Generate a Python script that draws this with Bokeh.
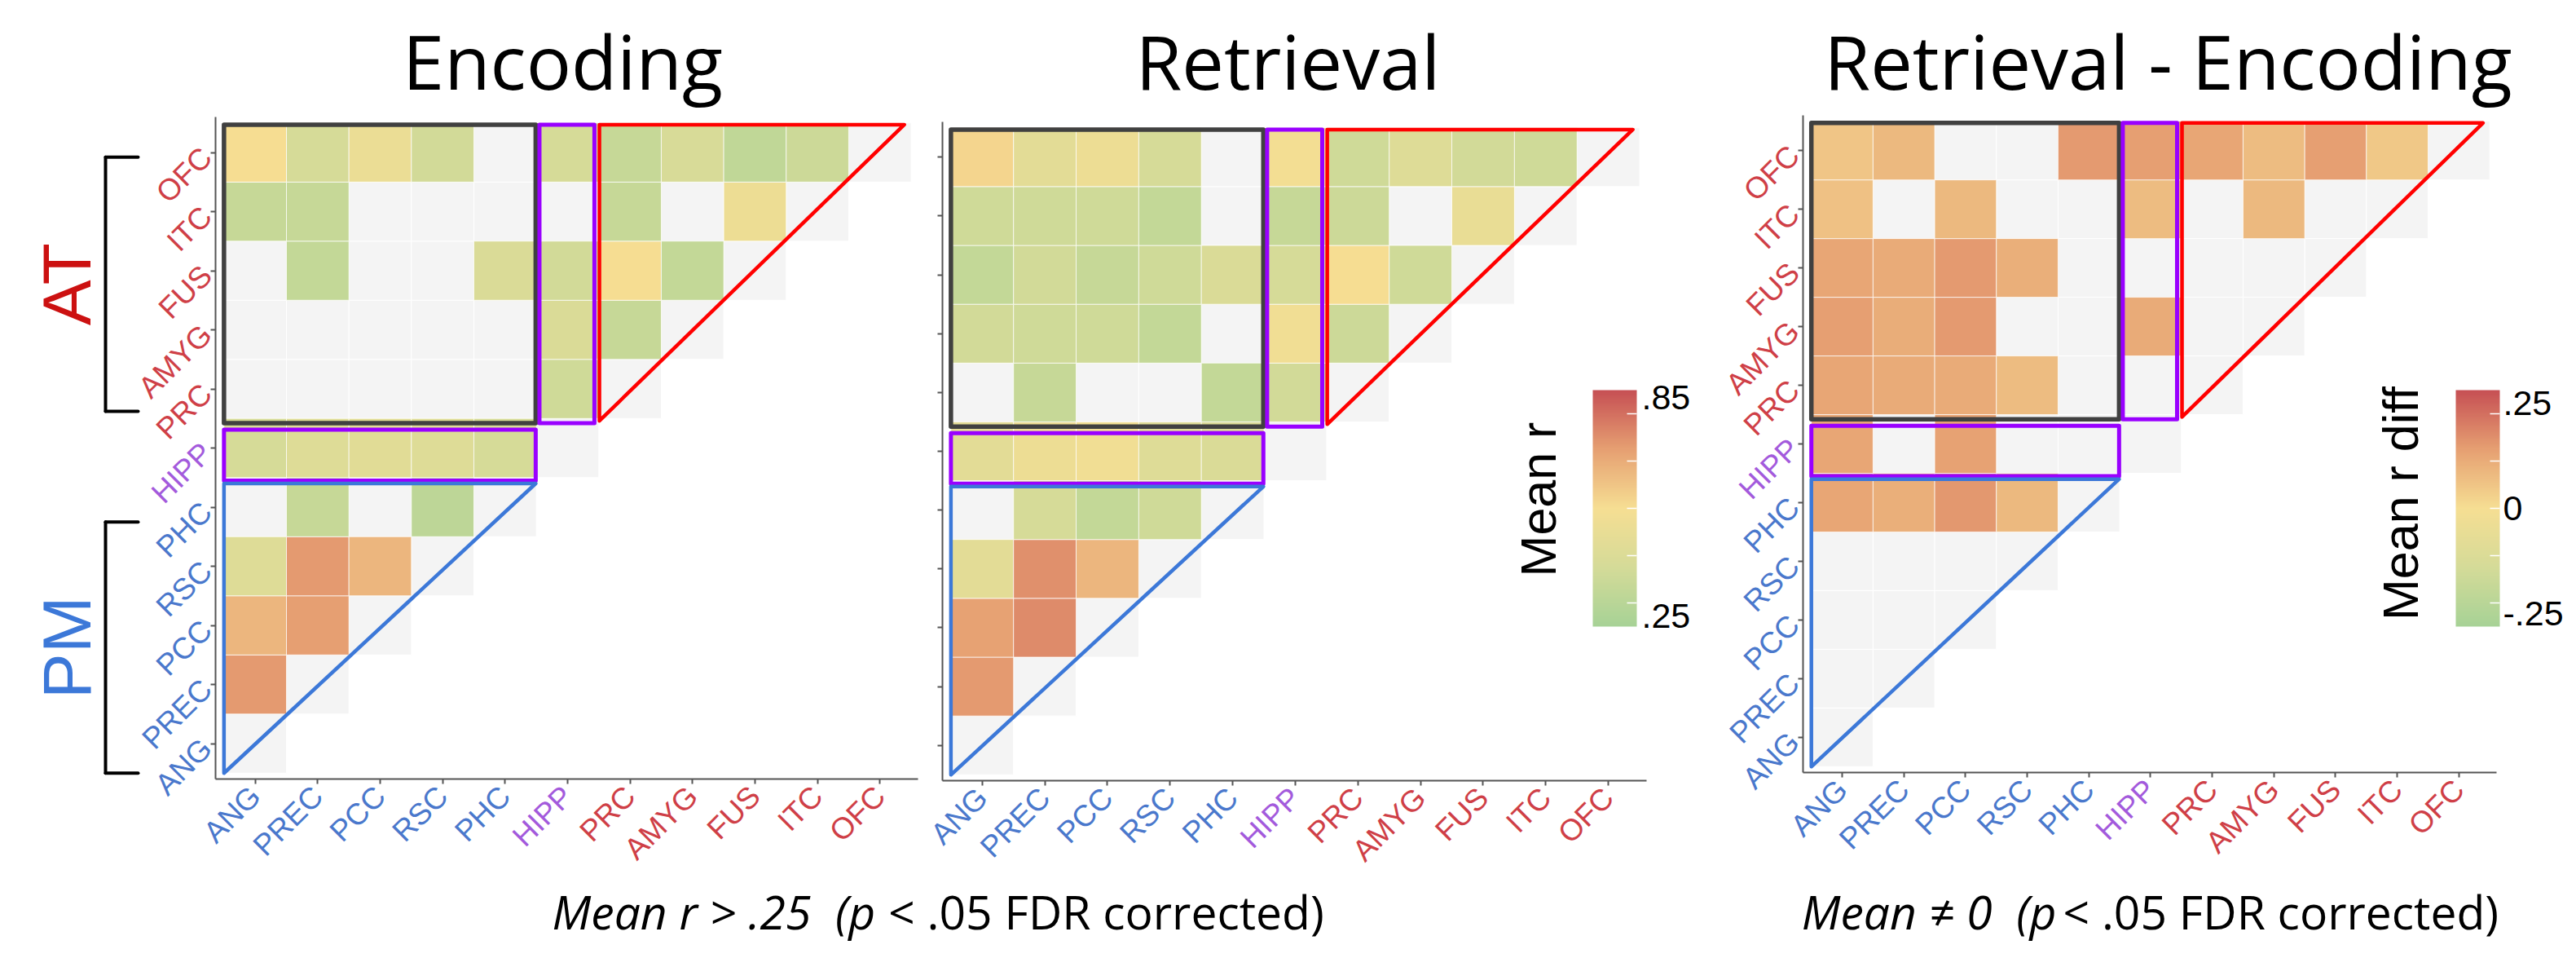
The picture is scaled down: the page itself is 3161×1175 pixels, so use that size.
import math
import numpy as np
from bokeh.plotting import figure
from bokeh.models import (ColumnDataSource, Label, Arrow, ColorBar, LinearAxis,
                          LinearColorMapper, FixedTicker, Range1d, CustomJSTickFormatter)
from bokeh.layouts import row
from bokeh.transform import transform
from bokeh.embed import file_html
from bokeh.resources import INLINE

# ---------------- data ----------------
regions = ["ANG", "PREC", "PCC", "RSC", "PHC", "HIPP", "PRC", "AMYG", "FUS", "ITC", "OFC"]
region_group = ["PM", "PM", "PM", "PM", "PM", "HIPP", "AT", "AT", "AT", "AT", "AT"]

# each row lists values for columns ANG.. (up to, not incl., the diagonal); None = not significant
encoding_r = {
    "OFC":  [0.55, 0.39, 0.49, 0.37, None, 0.39, 0.33, 0.40, 0.31, 0.35],
    "ITC":  [0.33, 0.33, None, None, None, None, 0.33, None, 0.50],
    "FUS":  [None, 0.32, None, None, 0.41, 0.37, 0.55, 0.32],
    "AMYG": [None, None, None, None, None, 0.41, 0.33],
    "PRC":  [None, None, None, None, None, 0.36],
    "HIPP": [0.39, 0.43, 0.44, 0.43, 0.39],
    "PHC":  [None, 0.33, None, 0.30],
    "RSC":  [0.43, 0.72, 0.65],
    "PCC":  [0.65, 0.71],
    "PREC": [0.72],
    "ANG":  [],
}
retrieval_r = {
    "OFC":  [0.57, 0.45, 0.50, 0.39, None, 0.53, 0.36, 0.43, 0.37, 0.36],
    "ITC":  [0.36, 0.36, 0.36, 0.32, None, 0.33, 0.35, None, 0.48],
    "FUS":  [0.32, 0.37, 0.33, 0.36, 0.41, 0.39, 0.55, 0.36],
    "AMYG": [0.37, 0.36, 0.36, 0.32, None, 0.52, 0.35],
    "PRC":  [None, 0.33, None, None, 0.32, 0.37],
    "HIPP": [0.45, 0.50, 0.52, 0.43, 0.41],
    "PHC":  [None, 0.39, 0.32, 0.36],
    "RSC":  [0.45, 0.74, 0.65],
    "PCC":  [0.70, 0.75],
    "PREC": [0.72],
    "ANG":  [],
}
difference_r = {
    "OFC":  [0.055, 0.085, None, None, 0.15, 0.14, 0.125, 0.075, 0.14, 0.05],
    "ITC":  [0.065, None, 0.085, None, None, 0.075, None, 0.085, None],
    "FUS":  [0.125, 0.115, 0.15, 0.105, None, None, None, None],
    "AMYG": [0.14, 0.11, 0.15, None, None, 0.115, None],
    "PRC":  [0.125, 0.115, 0.115, 0.075, None, None],
    "HIPP": [0.125, None, 0.135, None, None],
    "PHC":  [0.125, 0.105, 0.155, 0.085],
    "RSC":  [None, None, None],
    "PCC":  [None, None],
    "PREC": [None],
    "ANG":  [],
}
panel_titles = ["Encoding", "Retrieval", "Retrieval - Encoding"]
mean_r_ticks = [0.25, 0.85]
diff_ticks = [-0.25, 0.0, 0.25]

# ---------------- styles ----------------
group_colors = {"PM": "#4a78cc", "HIPP": "#a35adc", "AT": "#cf3f47"}
cmap_pos = [0.0, 0.25, 0.5, 0.75, 1.0]
cmap_hex = ["#a7d296", "#d5db98", "#f6de93", "#e6a072", "#c65054"]
NS_COLOR = "#f4f4f4"
AXIS_COLOR = "#555555"
TITLE_FONT = "Open Sans"
LABEL_FONT = "Liberation Sans"
BASELINE_FIX = 0.28          # empirical shift of the 'alphabetic' baseline, in em


def build_palette(n=256):
    rgb = np.array([[int(h[i:i + 2], 16) for i in (1, 3, 5)] for h in cmap_hex], float)
    out = []
    for t in np.linspace(0, 1, n):
        c = [int(round(np.interp(t, cmap_pos, rgb[:, k]))) for k in range(3)]
        out.append("#%02x%02x%02x" % tuple(c))
    return out


PALETTE = build_palette()

XS, XE = -0.635, 10.61      # panel box in data units
YS, YE = -0.6, 10.6
H = 1159
TOP = 8                      # page margin


def split_cells(vals):
    sx, sy, sv, nx, ny = [], [], [], [], []
    for r, name in enumerate(regions):
        rv = vals[name]
        for c in range(r):
            v = rv[c]
            if v is None:
                nx.append(c); ny.append(r)
            else:
                sx.append(c); sy.append(r); sv.append(v)
        nx.append(r); ny.append(r)
    return (ColumnDataSource(dict(x=sx, y=sy, v=sv)),
            ColumnDataSource(dict(x=nx, y=ny)))


def style_axis(ax, standoff):
    ax.major_tick_out = 6
    ax.major_tick_in = 0
    ax.minor_tick_line_color = None
    ax.major_tick_line_color = AXIS_COLOR
    ax.major_tick_line_width = 2
    ax.axis_line_width = 2
    ax.major_label_orientation = math.pi / 4
    ax.major_label_text_font = LABEL_FONT
    ax.major_label_text_font_size = "37px"
    ax.major_label_standoff = standoff


def make_panel(vals, canvas_left, canvas_w, bx, by, bw, bh, mapper, ylabels=True):
    ppx = bw / (XE - XS)
    ppy = bh / (YE - YS)
    x0 = XS - (bx - canvas_left) / ppx
    x1 = XE + (canvas_left + canvas_w - (bx + bw)) / ppx
    y1 = YE + (by - TOP) / ppy
    y0 = YS - (TOP + H - (by + bh)) / ppy
    p = figure(width=canvas_w, height=H, x_range=Range1d(x0, x1), y_range=Range1d(y0, y1),
               output_backend="svg", toolbar_location=None, title=None,
               x_axis_location=None, y_axis_location=None, min_border=0)
    p.outline_line_color = None
    p.grid.visible = False

    def dx(ref_x):
        return XS + (ref_x - bx) / ppx

    def dy(ref_y):
        return YE - (ref_y - by) / ppy

    # axes: one per label colour group, all pinned to the panel box edges
    for side, loc, bounds, so in (("below", YS, (XS, XE), 9), ("left", XS, (YS, YE), 5)):
        for k, g in enumerate(["PM", "HIPP", "AT"]):
            idx = [i for i, gg in enumerate(region_group) if gg == g]
            show = ylabels or side == "below"
            ax = LinearAxis(fixed_location=loc, bounds=bounds, ticker=FixedTicker(ticks=idx),
                            major_label_overrides={i: (regions[i] if show else "") for i in idx})
            style_axis(ax, so)
            ax.major_label_text_color = group_colors[g]
            ax.axis_line_color = AXIS_COLOR if k == 0 else None
            p.add_layout(ax, side)

    sig, ns = split_cells(vals)
    p.rect(x="x", y="y", width=1, height=1, source=ns, fill_color=NS_COLOR,
           line_color="white", line_width=1)
    p.rect(x="x", y="y", width=1, height=1, source=sig,
           fill_color=transform("v", mapper), line_color="white", line_width=1, line_alpha=0.7)

    # block outlines
    p.quad(left=[-0.5], right=[4.49], bottom=[5.42], top=[10.47], fill_color=None,
           line_color="#404040", line_width=5.5, line_join="round")
    p.quad(left=[4.55, -0.5], right=[5.43, 4.49], bottom=[5.42, 4.45], top=[10.47, 5.31],
           fill_color=None, line_color="#9900ff", line_width=5, line_join="round")
    p.patch(x=[5.51, 5.51, 10.39], y=[10.47, 5.46, 10.47], fill_color=None,
            line_color="#ff0000", line_width=4.5, line_join="round")
    p.patch(x=[-0.5, -0.5, 4.49], y=[4.4, -0.5, 4.4], fill_color=None,
            line_color="#3c78d8", line_width=4.5, line_join="round")
    return p, dx, dy


def baseline_label(p, dx, dy, x, base_y, text, align, size, style="normal"):
    p.add_layout(Label(x=dx(x), y=dy(base_y - BASELINE_FIX * size), text=text, text_align=align,
                       text_baseline="alphabetic", text_font=TITLE_FONT, text_font_style=style,
                       text_font_size="%dpx" % size, text_color="black"))


def add_colorbar(p, mapper, ticks, minor, loc, title, tx, ty, standoff=6):
    cb = ColorBar(color_mapper=mapper, location=loc, width=54, height=290, padding=0,
                  ticker=FixedTicker(ticks=ticks, minor_ticks=minor),
                  formatter=CustomJSTickFormatter(
                      code="return tick == 0 ? '0' : tick.toFixed(2).replace('0.', '.');"),
                  major_label_text_font_size="43px", major_label_text_font=LABEL_FONT,
                  major_label_text_color="black", label_standoff=standoff,
                  major_tick_line_color=None, minor_tick_line_color="white",
                  minor_tick_line_width=1.5, minor_tick_in=12, minor_tick_out=0,
                  bar_line_color=None, background_fill_color=None, border_line_color=None)
    p.add_layout(cb)
    p.add_layout(Label(x=tx, y=ty, text=title, angle=math.pi / 2, text_align="center",
                       text_baseline="middle", text_font=LABEL_FONT, text_font_size="61px",
                       text_color="black"))


mapper_r = LinearColorMapper(palette=PALETTE, low=0.22, high=0.87)
mapper_d = LinearColorMapper(palette=PALETTE, low=-0.28, high=0.28)

NOTE_Y = 1141
NOTE_SIZE = 57

# panel 1 -- Encoding
p1, dx1, dy1 = make_panel(encoding_r, 8, 1132, 272, 151, 862, 812, mapper_r)
baseline_label(p1, dx1, dy1, 698, 108, panel_titles[0], "center", 92)
for (y0, y1, txt, col) in [(5.62, 9.92, "AT", "#cc1111"), (-0.5, 3.75, "PM", "#3c78d8")]:
    xv, xa = dx1(137), dx1(177)
    for (a, b, c, d) in [(xa, y1, xv, y1), (xv, y1, xv, y0), (xv, y0, xa, y0)]:
        p1.add_layout(Arrow(x_start=a, y_start=b, x_end=c, y_end=d, end=None, start=None,
                            line_color="black", line_width=4, line_cap="round"))
    p1.add_layout(Label(x=dx1(89), y=(y0 + y1) / 2, text=txt, angle=math.pi / 2,
                        text_align="center", text_baseline="middle", text_font=LABEL_FONT,
                        text_font_size="84px", text_color=col))
baseline_label(p1, dx1, dy1, 1129, NOTE_Y, "Mean r > .25\u00a0\u00a0(p <", "right", NOTE_SIZE,
               "italic")

# panel 2 -- Retrieval
p2, dx2, dy2 = make_panel(retrieval_r, 1140, 950, 1164, 157, 864, 808, mapper_r, ylabels=False)
baseline_label(p2, dx2, dy2, 1588, 108, panel_titles[1], "center", 92)
add_colorbar(p2, mapper_r, mean_r_ticks, [0.285, 0.415, 0.545, 0.675, 0.805],
             (822, 391), "Mean r", dx2(1895), dy2(620))
baseline_label(p2, dx2, dy2, 1145, NOTE_Y, ".05 FDR corrected)", "left", NOTE_SIZE)

# panel 3 -- Retrieval - Encoding
p3, dx3, dy3 = make_panel(difference_r, 2090, 1063, 2220, 149, 851, 806, mapper_d)
baseline_label(p3, dx3, dy3, 2668, 108, panel_titles[2], "center", 92)
add_colorbar(p3, mapper_d, diff_ticks, [-0.224, -0.112, 0.0, 0.112, 0.224],
             (931, 391), "Mean r diff", dx3(2953), dy3(625), standoff=4)
baseline_label(p3, dx3, dy3, 2531, NOTE_Y, "Mean \u2260 0\u00a0\u00a0(p", "right", NOTE_SIZE,
               "italic")
baseline_label(p3, dx3, dy3, 2539, NOTE_Y, "< .05 FDR corrected)", "left", NOTE_SIZE)

layout = row(p1, p2, p3)
open("out.html", "w").write(file_html(layout, INLINE))
